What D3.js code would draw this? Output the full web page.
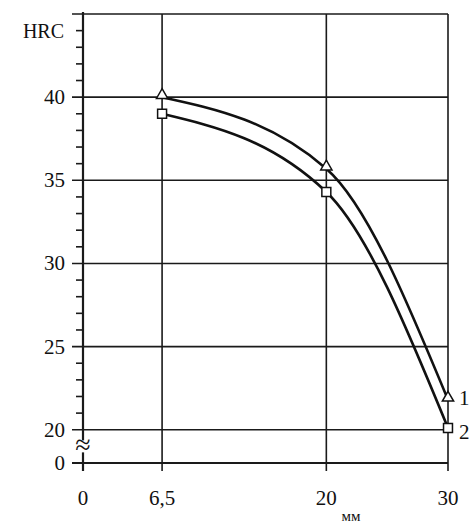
<!DOCTYPE html>
<html>
<head>
<meta charset="utf-8">
<script src="https://cdn.jsdelivr.net/npm/d3@7"></script>
<style>
  body { margin: 0; background: #fff; }
</style>
</head>
<body>
<div id="chart"></div>
<script>
// data
var xTicks = [0, 6.5, 20, 30];
var xTickLabels = ["0", "6,5", "20", "30"];
var yMajor = [20, 25, 30, 35, 40, 45];
var yLabels = ["20", "25", "30", "35", "40", ""];
var thickness = [6.5, 20, 30];
var hrc1 = [40.0, 35.7, 21.8];
var hrc2 = [39.0, 34.3, 20.1];
var seriesNames = ["1", "2"];

var serif = "'Liberation Serif', 'Times New Roman', 'DejaVu Serif', serif";
var width = 470, height = 525;
var svg = d3.select("#chart").append("svg")
    .attr("width", width)
    .attr("height", height)
    .attr("font-family", serif);

// scales (the y axis is broken: "0" sits where 18 would be)
var x = d3.scaleLinear().domain([0, 30]).range([83, 448]);
var y = d3.scaleLinear().domain([18, 45]).range([463, 14]);
var yZero = 18;

var left = 72, right = x(30);

// horizontal grid lines
svg.append("g").selectAll("line")
    .data(yMajor.concat([yZero]))
    .enter().append("line")
    .attr("x1", left).attr("x2", right)
    .attr("y1", d => y(d)).attr("y2", d => y(d))
    .attr("stroke", "#1a1a1a")
    .attr("stroke-width", d => d == yZero ? 2 : 1.6);

// vertical grid lines + x ticks
svg.append("g").selectAll("line")
    .data(xTicks)
    .enter().append("line")
    .attr("x1", d => x(d)).attr("x2", d => x(d))
    .attr("y1", d => d == 0 ? y(45) - 2 : y(45))
    .attr("y2", y(yZero) + 8)
    .attr("stroke", "#1a1a1a")
    .attr("stroke-width", d => d == 0 ? 2.2 : 1.6);

// minor y ticks
var minor = d3.range(21, 45).filter(v => v % 5 != 0);
svg.append("g").selectAll("line")
    .data(minor)
    .enter().append("line")
    .attr("x1", 76).attr("x2", x(0))
    .attr("y1", d => y(d)).attr("y2", d => y(d))
    .attr("stroke", "#1a1a1a")
    .attr("stroke-width", 1.6);

// y labels
svg.append("g").selectAll("text")
    .data(yMajor)
    .enter().append("text")
    .attr("x", 65)
    .attr("y", d => y(d) + 7)
    .attr("text-anchor", "end")
    .attr("font-size", 21)
    .attr("fill", "#111")
    .text((d, i) => yLabels[i]);

svg.append("text")
    .attr("x", 64).attr("y", y(44) + 7)
    .attr("text-anchor", "end")
    .attr("font-size", 20)
    .attr("fill", "#111")
    .text("HRC");

svg.append("text")
    .attr("x", 65).attr("y", y(yZero) + 7)
    .attr("text-anchor", "end")
    .attr("font-size", 21)
    .attr("fill", "#111")
    .text("0");

// axis break mark
svg.append("rect")
    .attr("x", x(0) - 5).attr("y", y(19) - 6)
    .attr("width", 10).attr("height", 12)
    .attr("fill", "#fff");
svg.append("text")
    .attr("x", x(0)).attr("y", y(19) + 8)
    .attr("text-anchor", "middle")
    .attr("font-size", 28)
    .attr("fill", "#111")
    .text("≈");

// x labels
svg.append("g").selectAll("text")
    .data(xTicks)
    .enter().append("text")
    .attr("x", d => x(d))
    .attr("y", 505)
    .attr("text-anchor", "middle")
    .attr("font-size", 21)
    .attr("fill", "#111")
    .text((d, i) => xTickLabels[i]);

svg.append("text")
    .attr("x", 351).attr("y", 521)
    .attr("text-anchor", "middle")
    .attr("font-size", 15)
    .attr("fill", "#111")
    .text("мм");

// curves
var line = d3.line()
    .x(d => x(d[0]))
    .y(d => y(d[1]))
    .curve(d3.curveMonotoneX);

var series = [hrc1, hrc2];
series.forEach(function (s, k) {
    var pts = thickness.map((t, i) => [t, s[i]]);
    svg.append("path")
        .attr("d", line(pts))
        .attr("fill", "none")
        .attr("stroke", "#111")
        .attr("stroke-width", 2.6);

    var sym = d3.symbol().type(k == 0 ? d3.symbolTriangle : d3.symbolSquare).size(k == 0 ? 55 : 80);
    svg.append("g").selectAll("path")
        .data(pts)
        .enter().append("path")
        .attr("transform", d => `translate(${x(d[0])},${y(d[1]) - (k == 0 ? 2 : 0)})`)
        .attr("d", sym)
        .attr("fill", "#fff")
        .attr("stroke", "#111")
        .attr("stroke-width", 1.5);

    svg.append("text")
        .attr("x", x(30) + 11)
        .attr("y", y(s[2]) + 7 + (k == 0 ? -2 : 4))
        .attr("font-size", 21)
        .attr("fill", "#111")
        .text(seriesNames[k]);
});
</script>
</body>
</html>
